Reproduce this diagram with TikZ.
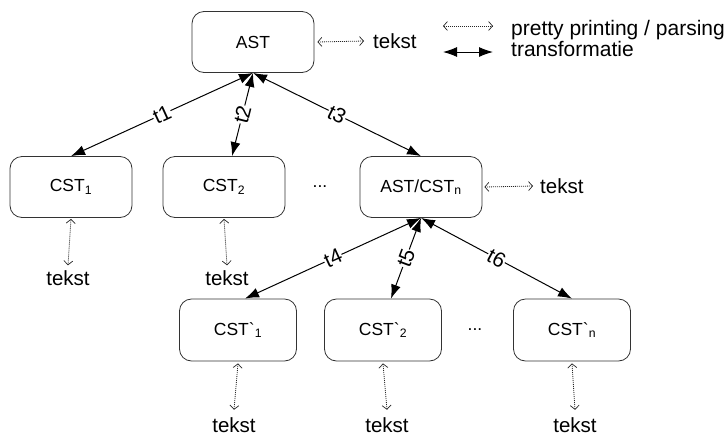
\documentclass[tikz,border=0pt]{standalone}
\usepackage{fontspec}
\setmainfont{Liberation Sans}
\usetikzlibrary{arrows.meta}
\begin{document}
\begin{tikzpicture}[x=1pt,y=-1pt,
  box/.style={draw=black!80, line width=0.8pt, rounded corners=12pt,
    minimum width=122pt, minimum height=61pt, inner sep=0pt,
    font=\fontsize{17.5}{19}\selectfont},
  lbox/.style={box, minimum width=117pt, minimum height=62pt},
  txt/.style={font=\fontsize{20.5}{22}\selectfont, inner sep=0pt},
  legtxt/.style={font=\fontsize{21}{23}\selectfont, inner sep=0pt, anchor=base west},
  dots/.style={font=\fontsize{17.5}{19}\selectfont, inner sep=0pt},
  tr/.style={line width=1pt, {Latex[length=14pt,width=10pt]}-{Latex[length=14pt,width=10pt]}},
  pp/.style={line width=0.8pt, draw=black!85, dash pattern=on 1pt off 1pt,
    {Straight Barb[length=4pt,width=9pt,line width=0.7pt]}-{Straight Barb[length=4pt,width=9pt,line width=0.7pt]}},
  lab/.style={font=\fontsize{21}{22}\selectfont, fill=white, inner sep=0.5pt, sloped, midway}
]
\useasboundingbox (0,0) rectangle (726,437);

% boxes
\node[box] (ast) at (253,42) {AST};
\node[box] (c1) at (71,187) {CST\textsubscript{1}};
\node[box] (c2) at (224,187) {CST\textsubscript{2}};
\node[box] (cn) at (421,187) {AST/CST\textsubscript{n}};
\node[dots] (d1) at (320,187) {...};
\node[lbox] (b1) at (238,330) {CST\textasciigrave\textsubscript{1}};
\node[lbox] (b2) at (383,330) {CST\textasciigrave\textsubscript{2}};
\node[lbox] (bn) at (572,330) {CST\textasciigrave\textsubscript{n}};
\node[dots] (d2) at (475,330) {...};

% text nodes
\node[txt, anchor=west] (tast) at (373,41) {tekst};
\node[txt, anchor=west] (tcn) at (540,186) {tekst};
\node[txt] (tc1) at (68,278) {tekst};
\node[txt] (tc2) at (227,278) {tekst};
\node[txt] (tb1) at (234,425.5) {tekst};
\node[txt] (tb2) at (387,425.5) {tekst};
\node[txt] (tbn) at (575,425.5) {tekst};

% pretty printing arrows
\draw[pp] ([xshift=3pt]ast.east) -- ([xshift=-9pt]tast.west);
\draw[pp] ([xshift=2pt]cn.east) -- ([xshift=-7pt]tcn.west);
\draw[pp] ([yshift=-1pt]c1.south) -- ([yshift=5pt]tc1.north);
\draw[pp] ([yshift=-1pt]c2.south) -- ([yshift=5pt]tc2.north);
\draw[pp] ([yshift=-2pt]b1.south) -- ([yshift=8pt]tb1.north);
\draw[pp] ([yshift=-2pt]b2.south) -- ([yshift=8pt]tb2.north);
\draw[pp] ([yshift=-2pt]bn.south) -- ([yshift=8pt]tbn.north);

% transformations
\draw[tr] (ast.south) -- node[lab] {t1} (c1.north);
\draw[tr] (ast.south) -- node[lab] {t2} ([xshift=8pt]c2.north);
\draw[tr] (ast.south) -- node[lab] {t3} (cn.north);
\draw[tr] (cn.south) -- node[lab] {t4} ([xshift=7pt]b1.north);
\draw[tr] (cn.south) -- node[lab] {t5} ([xshift=8pt]b2.north);
\draw[tr] (cn.south) -- node[lab] {t6} (bn.north);

% legend
\coordinate (l1a) at (443,26);
\coordinate (l1b) at (493,26);
\coordinate (l2a) at (443,52);
\coordinate (l2b) at (493,52);
\draw[pp] (l1a) -- (l1b);
\draw[tr] (l2a) -- (l2b);
\node[legtxt] (lg1) at (511,35) {pretty printing / parsing};
\node[legtxt] (lg2) at (511,56) {transformatie};
\end{tikzpicture}
\end{document}
